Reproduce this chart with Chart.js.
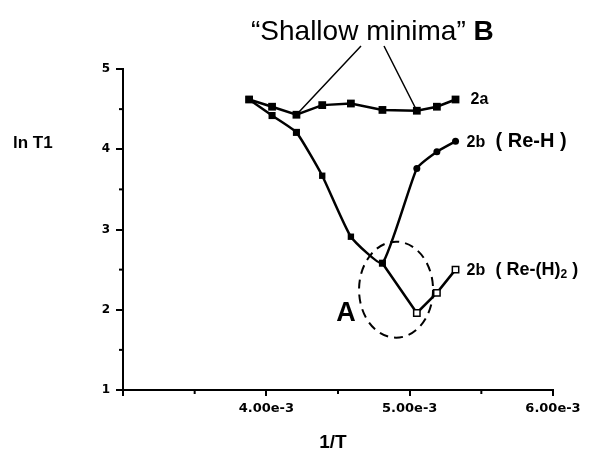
<!DOCTYPE html>
<html>
<head>
<meta charset="utf-8">
<script src="https://cdn.jsdelivr.net/npm/chart.js@4.4.0/dist/chart.umd.min.js"></script>
<style>
  html, body { margin: 0; padding: 0; background: #fff; }
  #wrap { width: 594px; height: 452px; }
</style>
</head>
<body>
<div id="wrap"><canvas id="t1Chart" width="594" height="452"></canvas></div>
<script>
// valores
const invT = [3.88e-3, 4.04e-3, 4.21e-3, 4.39e-3, 4.59e-3, 4.81e-3, 5.05e-3, 5.19e-3, 5.32e-3];
const lnT1_2a = [4.62, 4.53, 4.43, 4.55, 4.57, 4.49, 4.48, 4.53, 4.62];
const lnT1_2bReH = [4.62, 4.42, 4.21, 3.67, 2.91, 2.58, 3.76, 3.97, 4.10];
const lnT1_2bReH2 = [null, null, null, null, null, 2.58, 1.96, 2.21, 2.50];
const yTicks = [1, 2, 3, 4, 5];
const yMinorTicks = [1.5, 2.5, 3.5, 4.5];
const xMinorTicks = [3.5e-3, 4.5e-3, 5.5e-3];

function toPoints(ys) {
    return invT.map((x, i) => ({ x: x, y: ys[i] }));
}

const FONT = 'Arial, "Liberation Sans", sans-serif';
const TICKFONT = '"DejaVu Sans", sans-serif';

// plugin com textos, marcações e elipse
const extras = {
    id: 'extras',
    afterDraw(chart) {
        const ctx = chart.ctx;
        const xs = chart.scales.x, ys = chart.scales.y;
        ctx.save();
        ctx.strokeStyle = '#000';
        ctx.fillStyle = '#000';

        // ticks menores
        ctx.lineWidth = 2;
        yMinorTicks.forEach(v => {
            const py = ys.getPixelForValue(v);
            ctx.beginPath();
            ctx.moveTo(xs.left - 4, py);
            ctx.lineTo(xs.left, py);
            ctx.stroke();
        });
        xMinorTicks.forEach(v => {
            const px = xs.getPixelForValue(v);
            ctx.beginPath();
            ctx.moveTo(px, ys.bottom);
            ctx.lineTo(px, ys.bottom + 4);
            ctx.stroke();
        });

        // títulos dos eixos
        ctx.textBaseline = 'middle';
        ctx.textAlign = 'left';
        ctx.font = 'bold 17px ' + FONT;
        ctx.fillText('ln T1', 13, 143);
        ctx.textAlign = 'center';
        ctx.font = 'bold 19px ' + FONT;
        ctx.fillText('1/T', 333, 443);

        // rótulos das séries
        const last = invT.length - 1;
        const lx = xs.getPixelForValue(invT[last]) + 11;
        ctx.textAlign = 'left';
        ctx.font = 'bold 16px ' + FONT;
        ctx.fillText('2a', lx + 4, ys.getPixelForValue(lnT1_2a[last]));

        let py = ys.getPixelForValue(lnT1_2bReH[last]);
        ctx.font = 'bold 16px ' + FONT;
        ctx.fillText('2b', lx, py + 1);
        ctx.font = 'bold 20px ' + FONT;
        ctx.fillText('( Re-H )', lx + 29, py);

        py = ys.getPixelForValue(lnT1_2bReH2[last]);
        ctx.font = 'bold 16px ' + FONT;
        ctx.fillText('2b', lx, py + 1);
        ctx.font = 'bold 18px ' + FONT;
        let t = '( Re-(H)';
        ctx.fillText(t, lx + 29, py);
        let w = ctx.measureText(t).width;
        ctx.font = 'bold 12px ' + FONT;
        ctx.fillText('2', lx + 29 + w, py + 5);
        let w2 = ctx.measureText('2').width;
        ctx.font = 'bold 18px ' + FONT;
        ctx.fillText(' )', lx + 29 + w + w2, py);

        // "Shallow minima" B
        ctx.font = '28px ' + FONT;
        const s = '\u201cShallow minima\u201d ';
        ctx.fillText(s, 251, 32);
        const sw = ctx.measureText(s).width;
        ctx.font = 'bold 28px ' + FONT;
        ctx.fillText('B', 251 + sw, 32);

        ctx.lineWidth = 1.5;
        ctx.beginPath();
        ctx.moveTo(361, 46);
        ctx.lineTo(xs.getPixelForValue(invT[2]), ys.getPixelForValue(lnT1_2a[2]));
        ctx.moveTo(384, 46);
        ctx.lineTo(xs.getPixelForValue(invT[6]), ys.getPixelForValue(lnT1_2a[6]));
        ctx.stroke();

        // elipse tracejada A
        const cx = xs.getPixelForValue(4.905e-3), cy = ys.getPixelForValue(2.25);
        ctx.lineWidth = 2;
        ctx.setLineDash([9, 6]);
        ctx.beginPath();
        ctx.ellipse(cx, cy, 37, 48, 0, 0, Math.PI * 2);
        ctx.stroke();
        ctx.setLineDash([]);

        ctx.textAlign = 'center';
        ctx.font = 'bold 27px ' + FONT;
        ctx.fillText('A', 346, 314);
        ctx.restore();
    }
};

const ctx = document.getElementById('t1Chart').getContext('2d');
const chart = new Chart(ctx, {
    type: 'line',
    data: {
        datasets: [
            {
                label: '2a',
                data: toPoints(lnT1_2a),
                borderColor: '#000',
                backgroundColor: '#000',
                borderWidth: 2.5,
                pointStyle: 'rect',
                pointRadius: 5.5,
                pointBorderWidth: 0
            },
            {
                label: '2b ( Re-H )',
                data: toPoints(lnT1_2bReH),
                borderColor: '#000',
                backgroundColor: '#000',
                borderWidth: 2.5,
                pointStyle: ['rect', 'rect', 'rect', 'rect', 'rect', 'rect', 'circle', 'circle', 'circle'],
                pointRadius: [5, 5, 5, 4.5, 4.5, 5, 3.5, 3.5, 3.5],
                pointBorderWidth: 0,
                tension: 0.15
            },
            {
                label: '2b ( Re-(H)2 )',
                data: toPoints(lnT1_2bReH2),
                borderColor: '#000',
                backgroundColor: '#fff',
                borderWidth: 2.5,
                pointStyle: 'rect',
                pointRadius: [0, 0, 0, 0, 0, 0, 4.5, 4.5, 4.5],
                pointBorderWidth: 1.5,
                spanGaps: false
            }
        ]
    },
    options: {
        responsive: false,
        animation: false,
        layout: { padding: { left: 0, top: 69, right: 41, bottom: 0 } },
        plugins: {
            legend: { display: false },
            tooltip: { enabled: false }
        },
        scales: {
            x: {
                type: 'linear',
                min: 0.003,
                max: 0.006,
                afterFit: function(scale) { scale.height = 62; },
                border: { color: '#000', width: 2 },
                grid: { drawOnChartArea: false, drawTicks: true, tickLength: 6, color: '#000', lineWidth: 2 },
                ticks: {
                    stepSize: 0.001,
                    color: '#000',
                    padding: 5,
                    maxRotation: 0,
                    font: { family: TICKFONT, size: 13, weight: 'bold' },
                    callback: function(value) {
                        if (Math.abs(value - 0.003) < 1e-9) return '';
                        return value.toExponential(2);
                    }
                }
            },
            y: {
                min: 1,
                max: 5,
                afterFit: function(scale) { scale.width = 123; },
                afterBuildTicks: function(scale) {
                    scale.ticks = yTicks.map(v => ({ value: v }));
                },
                border: { color: '#000', width: 2 },
                grid: { drawOnChartArea: false, drawTicks: true, tickLength: 7, color: '#000', lineWidth: 2 },
                ticks: {
                    color: '#000',
                    padding: 6,
                    font: { family: TICKFONT, size: 12, weight: 'bold' },
                    callback: function(value) { return value; }
                }
            }
        }
    },
    plugins: [extras]
});
</script>
</body>
</html>
